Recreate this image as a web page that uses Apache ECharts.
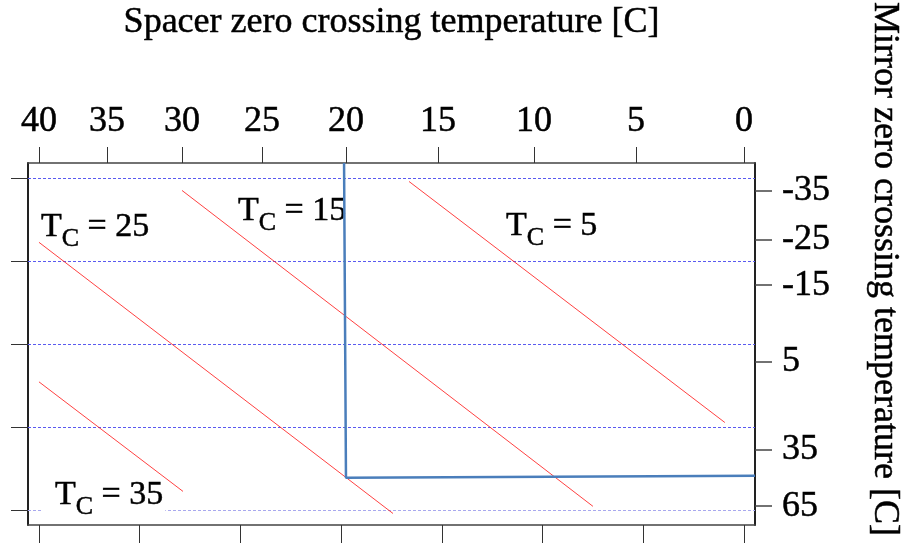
<!DOCTYPE html>
<html>
<head>
<meta charset="utf-8">
<script src="https://cdn.jsdelivr.net/npm/echarts@6/dist/echarts.min.js"></script>
<style>
html,body{margin:0;padding:0;background:#fff;}
#chart{width:903px;height:556px;}
</style>
</head>
<body>
<div id="chart"></div>
<script>
// Linear plotting units: x = bottom-axis units (ticks 0..7), y = left-axis units (ticks 0..4, downward)
const bottomTickPos = [0, 1, 2, 3, 4, 5, 6, 7];
const leftTickPos = [0, 1, 2, 3, 4];
const topTickPos = [0, 0.675, 1.42, 2.214, 3.048, 3.962, 4.915, 5.928, 7.0];
const topTickLabels = ['40', '35', '30', '25', '20', '15', '10', '5', '0'];
const rightTickPos = [0.144, 0.733, 1.285, 2.210, 3.267, 3.947];
const rightTickLabels = ['-35', '-25', '-15', '5', '35', '65'];
const gridLevels = [0, 1, 2, 3];
const bottomLevel = 4;

const tc35 = [[0, 2.45], [1.43, 3.77]];
const tc25 = [[0, 0.769], [3.515, 4.036]];
const tc15 = [[1.42, 0.144], [5.50, 3.95]];
const tc5 = [[3.674, 0.036], [6.81, 2.94]];
const boundary = [[3.029, -0.187], [3.048, 3.604], [7.109, 3.58]];

const tcNames = ['25', '15', '5', '35'];
const tcLabelAt = [[0.02, 0.378], [1.976, 0.186], [4.637, 0.366], [0.02, 3.61]];

const X_MIN = -0.109, X_MAX = 7.109, Y_MIN = -0.1867, Y_MAX = 4.1747;
const FONT = "'Liberation Serif', 'Times New Roman', serif";
const BOLDEN = { textBorderColor: '#000', textBorderWidth: 0.5 };

function lookup(pos, labels) {
  return function (v) {
    let best = 0, d = Infinity;
    pos.forEach((p, i) => { const dd = Math.abs(p - v); if (dd < d) { d = dd; best = i; } });
    return labels[best];
  };
}

const markLineData = gridLevels.map(v => ({ yAxis: v, lineStyle: { color: '#5a5af0', width: 1, type: [3, 2] } }))
  .concat([{ yAxis: bottomLevel, lineStyle: { color: '#a8a8ee', width: 1, type: [3, 2] } }]);

const chart = echarts.init(document.getElementById('chart'), null, { renderer: 'canvas' });
chart.setOption({
  animation: false,
  backgroundColor: '#fff',
  grid: { left: 28, right: 148, top: 163, bottom: 31, containLabel: false, outerBoundsMode: 'none' },
  xAxis: [
    {
      type: 'value', position: 'bottom', min: X_MIN, max: X_MAX,
      axisLine: { show: true, onZero: false, lineStyle: { color: '#444', width: 1.5 } },
      axisTick: { show: true, customValues: bottomTickPos, length: 18, lineStyle: { color: '#333', width: 1 } },
      axisLabel: { show: false },
      splitLine: { show: false }
    },
    {
      type: 'value', position: 'top', min: X_MIN, max: X_MAX,
      axisLine: { show: true, onZero: false, lineStyle: { color: '#444', width: 1.5 } },
      axisTick: { show: true, customValues: topTickPos, length: 16, lineStyle: { color: '#333', width: 1 } },
      axisLabel: Object.assign({
        show: true, customValues: topTickPos, formatter: lookup(topTickPos, topTickLabels),
        margin: 23, fontFamily: FONT, fontSize: 36, color: '#000'
      }, BOLDEN),
      splitLine: { show: false },
      name: 'Spacer zero crossing temperature [C]',
      nameLocation: 'middle', nameGap: 122,
      nameTextStyle: Object.assign({ fontFamily: FONT, fontSize: 36, color: '#000' }, BOLDEN)
    }
  ],
  yAxis: [
    {
      type: 'value', position: 'left', inverse: true, min: Y_MIN, max: Y_MAX,
      axisLine: { show: true, onZero: false, lineStyle: { color: '#222', width: 2 } },
      axisTick: { show: true, customValues: leftTickPos, length: 17, lineStyle: { color: '#333', width: 1 } },
      axisLabel: { show: false },
      splitLine: { show: false }
    },
    {
      type: 'value', position: 'right', inverse: true, min: Y_MIN, max: Y_MAX,
      axisLine: { show: true, onZero: false, lineStyle: { color: '#222', width: 2 } },
      axisTick: { show: true, customValues: rightTickPos, length: 17, lineStyle: { color: '#444', width: 1.5 } },
      axisLabel: Object.assign({
        show: true, customValues: rightTickPos, formatter: lookup(rightTickPos, rightTickLabels),
        margin: 27, fontFamily: FONT, fontSize: 36, color: '#000', align: 'left'
      }, BOLDEN),
      splitLine: { show: false }
    }
  ],
  graphic: [
    {
      type: 'text', x: 884, y: 269, rotation: -Math.PI / 2,
      style: {
        text: 'Mirror zero crossing temperature [C]',
        font: "36px 'Liberation Serif', 'Times New Roman', serif",
        fill: '#000', stroke: '#000', lineWidth: 0.5,
        textAlign: 'center', textVerticalAlign: 'middle'
      }
    }
  ],
  series: [
    {
      type: 'line', data: [], z: 1, xAxisIndex: 0, yAxisIndex: 0,
      markLine: {
        z: 1, silent: true, symbol: 'none', label: { show: false },
        data: markLineData
      }
    },
    {
      type: 'scatter', z: 2, symbolSize: 0, silent: true,
      itemStyle: { opacity: 1 },
      data: tcLabelAt.map((p, i) => ({
        value: p,
        label: i === 3 ? { backgroundColor: '#fff', padding: [0, 2, 0, 14] } : {}
      })),
      label: {
        show: true, position: [0, 0], align: 'left', verticalAlign: 'top', color: '#000', opacity: 1,
        formatter: p => '{t|T}{s|C}{t| = ' + tcNames[p.dataIndex] + '}',
        rich: {
          t: Object.assign({ fontFamily: FONT, fontSize: 34, lineHeight: 34, color: '#000', verticalAlign: 'top' }, BOLDEN),
          s: Object.assign({ fontFamily: FONT, fontSize: 26, lineHeight: 26, color: '#000', verticalAlign: 'top', padding: [16, 0, 0, 0] }, BOLDEN)
        }
      }
    },
    ...[tc35, tc25, tc15, tc5].map(d => ({
      type: 'line', z: 3, data: d, showSymbol: false, symbol: 'none',
      lineStyle: { color: '#ff2020', width: 1, opacity: 0.85 }
    })),
    {
      type: 'line', z: 4, data: boundary, showSymbol: false, symbol: 'none',
      lineStyle: { color: '#4a7ebb', width: 2.5 }
    }
  ]
});
</script>
</body>
</html>
